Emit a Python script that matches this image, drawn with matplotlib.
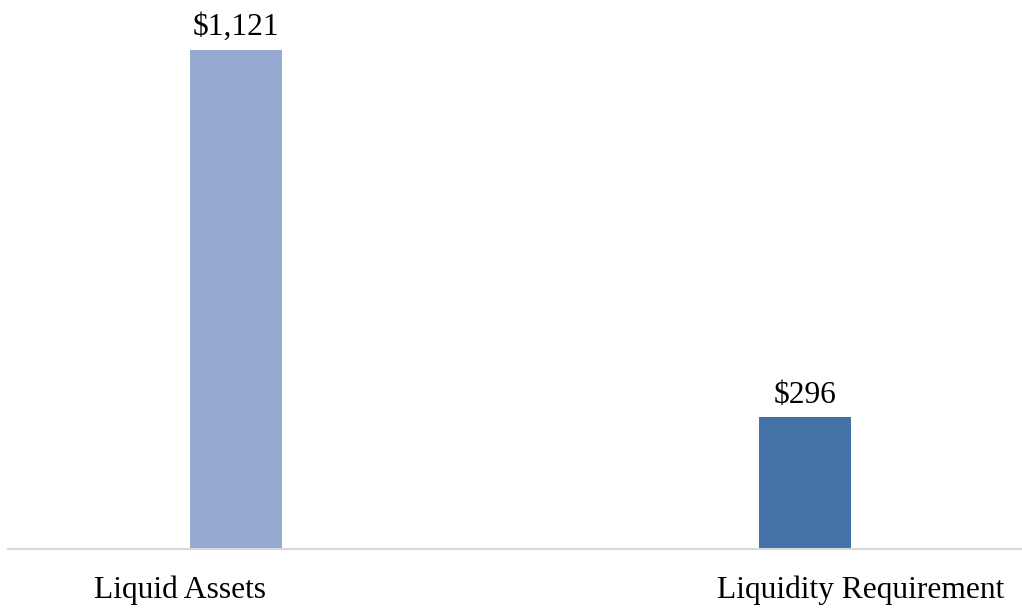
import matplotlib.pyplot as plt

categories = ["Liquid Assets", "Liquidity Requirement"]
values = [1121, 296]
value_labels = ["$1,121", "$296"]
colors = ["#95A9D1", "#4472A6"]

plt.rcParams['font.family'] = ['Liberation Serif', 'DejaVu Serif']

fig = plt.figure(figsize=(10.22, 6.08), dpi=100)
ax = fig.add_axes([8 / 1022, 1 - 549 / 608, 1014 / 1022, 549 / 608])

x = list(range(len(categories)))
bars = ax.bar(x, values, width=0.162, color=colors)

for bar, lab in zip(bars, value_labels):
    ax.annotate(lab, (bar.get_x() + bar.get_width() / 2, bar.get_height()),
                xytext=(0, 16), textcoords="offset points",
                ha="center", va="center", fontsize=22.7, color="black")

# category labels sit a little off the bar centres, as in the source chart
label_shift = [-0.098, 0.097]
ax.set_xlim(-0.4007, 1.3814)
ax.set_ylim(0, 1121 * 549 / 499)
ax.set_xticks([xi + s for xi, s in zip(x, label_shift)])
ax.set_xticklabels(categories, fontsize=22.7)
ax.tick_params(axis="x", length=0, pad=19)
ax.set_yticks([])

for side in ["top", "right", "left"]:
    ax.spines[side].set_visible(False)
ax.spines["bottom"].set_color("#D9D9D9")
ax.spines["bottom"].set_linewidth(1.5)

fig.savefig("out.png", dpi=100)
